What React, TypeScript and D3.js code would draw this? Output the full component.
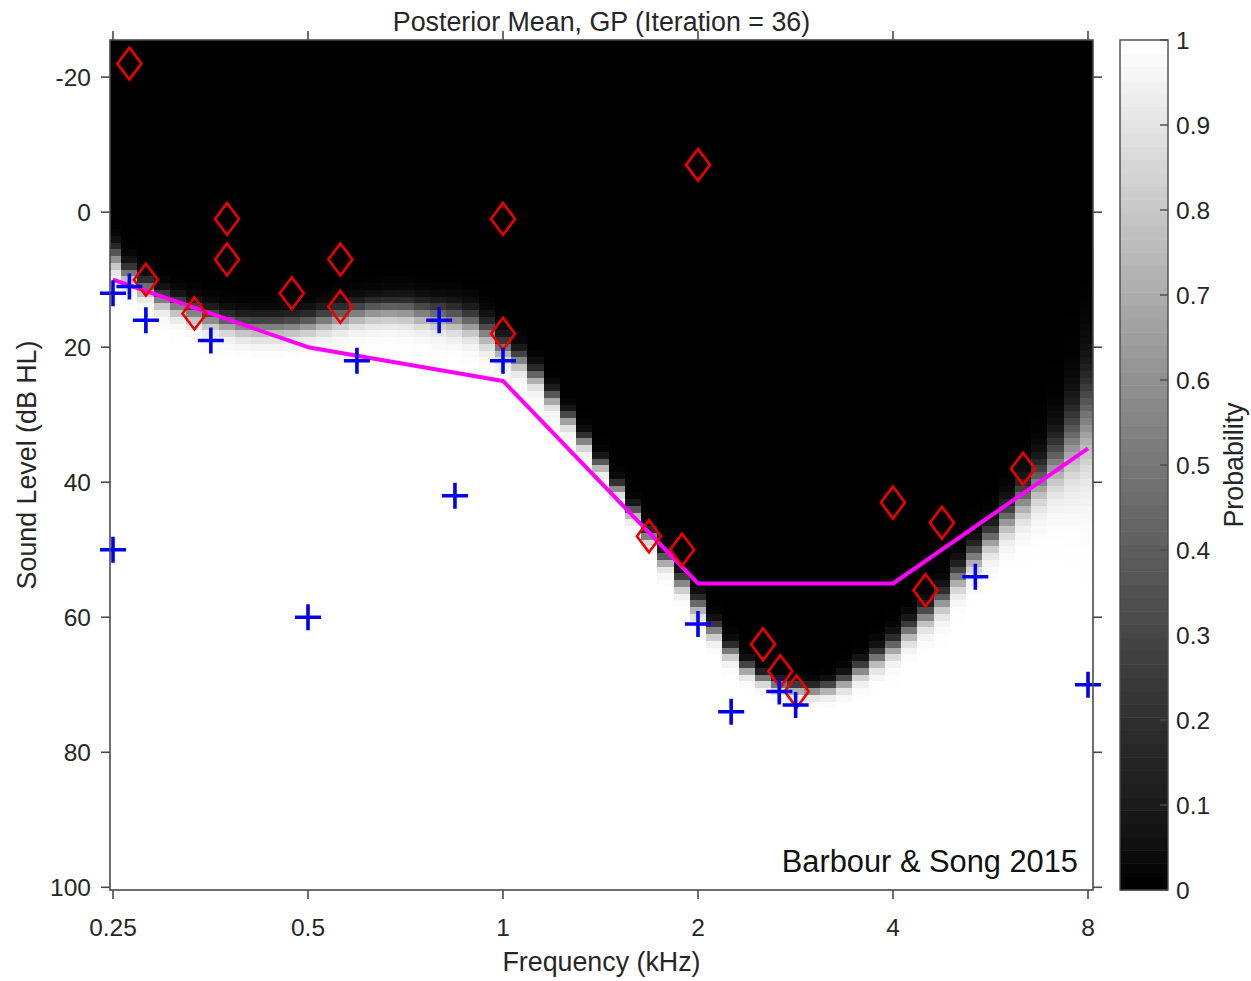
import React, { useMemo } from "react";
import * as d3 from "d3";

const W = 1251;
const H = 981;
const FONT = "'Liberation Sans', Arial, Helvetica, sans-serif";
const TEXT = "#262626";
const AXIS = "#4a4a4a";

// Axes frame (pixels) and the data positions of the outermost ticks
const frame = { left: 110, right: 1093, top: 40, bottom: 890 };
const cbar = { left: 1120, right: 1168, top: 40, bottom: 890 };

const xTicks = [0.25, 0.5, 1, 2, 4, 8];
const yTicks = [-20, 0, 20, 40, 60, 80, 100];
const colorTicks = [0, 0.1, 0.2, 0.3, 0.4, 0.5, 0.6, 0.7, 0.8, 0.9, 1];

// Audiogram threshold (magenta line)
const thresholdFreqs = [0.25, 0.5, 1, 2, 4, 8];
const thresholdLevels = [10, 20, 25, 55, 55, 35];

// Tones not heard (red diamonds)
const missFreqs = [0.265, 0.281, 0.334, 0.375, 0.375, 0.472, 0.561, 0.561, 1.0, 1.0, 2.0, 1.68, 1.89, 4.0, 4.76, 4.49, 6.35, 2.52, 2.68, 2.84];
const missLevels = [-22, 10, 15, 1, 7, 12, 7, 14, 1, 18, -7, 48, 50, 43, 46, 56, 38, 64, 68, 71];

// Tones heard (blue pluses)
const hitFreqs = [0.25, 0.265, 0.281, 0.354, 0.25, 0.5, 0.595, 0.797, 0.843, 1.0, 2.0, 2.25, 2.67, 2.83, 5.36, 8.0];
const hitLevels = [12, 11, 16, 19, 50, 60, 22, 16, 42, 22, 61, 74, 71, 73, 54, 70];

// Posterior-mean 50% contour (dB HL) and its transition width (dB),
// sampled every 1/8 octave from 0.25 kHz up to 8 kHz
const contourStepOct = 1 / 8;
const contourLevels = [
  6.7, 10.3, 13.0, 14.5, 15.8, 16.8, 17.0, 17.0, 16.6, 15.8, 15.0, 14.5, 14.6, 15.2, 15.8, 16.8,
  20.2, 22.8, 27.5, 32.2, 37.4, 42.6, 48.0, 53.2, 58.3, 63.8, 67.6, 69.8, 70.6, 71.0, 69.6, 67.0,
  64.4, 61.0, 57.6, 52.4, 48.4, 44.0, 40.0, 35.6, 30.8,
];
const contourSpread = [
  1.0, 0.75, 0.8, 0.85, 0.9, 0.9, 0.95, 0.95, 0.95, 1.0, 1.0, 1.0, 1.05, 1.1, 1.15, 1.2,
  0.95, 0.85, 0.75, 0.65, 0.62, 0.6, 0.62, 0.75, 0.8, 0.7, 0.6, 0.5, 0.5, 0.5, 0.65, 0.8,
  0.9, 0.95, 1.05, 1.15, 1.15, 1.45, 1.8, 2.5, 4.0,
];

// Evaluation grid of the posterior mean
const gridStepOct = 1 / 12;
const gridOctaves = 5;
const gridLevelMin = -26;
const gridLevelMax = 101;

const x = d3.scaleLog().base(2).domain([0.25, 8]).range([113, 1088]);
const y = d3.scaleLinear().domain([-25.5, 100.4]).range([frame.top, frame.bottom]);
const cy = d3.scaleLinear().domain([0, 1]).range([cbar.bottom, cbar.top]);

function contourAt(oct: number, arr: number[]) {
  const t = oct / contourStepOct;
  const i = Math.min(arr.length - 2, Math.max(0, Math.floor(t)));
  const f = t - i;
  return arr[i] * (1 - f) + arr[i + 1] * f;
}

function usePosteriorImage() {
  return useMemo(() => {
    const cols = Math.round(gridOctaves / gridStepOct) + 1;
    const rows = gridLevelMax - gridLevelMin + 1;
    const canvas = document.createElement("canvas");
    canvas.width = cols;
    canvas.height = rows;
    const ctx = canvas.getContext("2d")!;
    const img = ctx.createImageData(cols, rows);
    for (let c = 0; c < cols; c++) {
      const oct = c * gridStepOct;
      const T = contourAt(oct, contourLevels);
      const s = contourAt(oct, contourSpread);
      for (let r = 0; r < rows; r++) {
        const level = gridLevelMin + r;
        const p = 1 / (1 + Math.exp(-(level - T) / s));
        const g = Math.round(255 * p);
        const k = (r * cols + c) * 4;
        img.data[k] = g;
        img.data[k + 1] = g;
        img.data[k + 2] = g;
        img.data[k + 3] = 255;
      }
    }
    ctx.putImageData(img, 0, 0);
    return { url: canvas.toDataURL(), cols, rows };
  }, []);
}

function plusPath(cx: number, cyy: number, r: number) {
  return `M${cx - r},${cyy}H${cx + r}M${cx},${cyy - r}V${cyy + r}`;
}

export default function App() {
  const heat = usePosteriorImage();
  const halfCol = gridStepOct / 2;
  const imgX0 = x(0.25 * Math.pow(2, -halfCol));
  const imgX1 = x(8 * Math.pow(2, halfCol));
  const imgY0 = y(gridLevelMin - 0.5);
  const imgY1 = y(gridLevelMax + 0.5);

  const line = d3
    .line<number>()
    .x((_, i) => x(thresholdFreqs[i]))
    .y((d) => y(d));

  const bands = d3.range(64);
  const tickLen = 9;

  return (
    <svg
      width={W}
      height={H}
      style={{ position: "absolute", left: 0, top: 0, display: "block", background: "#fff" }}
      fontFamily={FONT}
    >
      <defs>
        <clipPath id="plotClip">
          <rect x={frame.left} y={frame.top} width={frame.right - frame.left} height={frame.bottom - frame.top} />
        </clipPath>
      </defs>

      {/* posterior mean probability */}
      <g clipPath="url(#plotClip)">
        <rect x={frame.left} y={frame.top} width={frame.right - frame.left} height={frame.bottom - frame.top} fill="#fff" />
        <image
          href={heat.url}
          x={imgX0}
          y={imgY0}
          width={imgX1 - imgX0}
          height={imgY1 - imgY0}
          preserveAspectRatio="none"
          style={{ imageRendering: "pixelated" }}
        />
        <path d={line(thresholdLevels) || ""} fill="none" stroke="#ff00ff" strokeWidth={4} strokeLinejoin="round" />
      </g>

      {/* markers */}
      <g>
        {missFreqs.map((f, i) => {
          const cx = x(f);
          const cyy = y(missLevels[i]);
          return (
            <path
              key={`m${i}`}
              d={`M${cx},${cyy - 16}L${cx + 12},${cyy}L${cx},${cyy + 16}L${cx - 12},${cyy}Z`}
              fill="none"
              stroke="#ee0000"
              strokeWidth={2.6}
            />
          );
        })}
        {hitFreqs.map((f, i) => (
          <path
            key={`h${i}`}
            d={plusPath(x(f), y(hitLevels[i]), 13)}
            fill="none"
            stroke="#0000ee"
            strokeWidth={3.6}
          />
        ))}
      </g>

      {/* axes box with outward ticks */}
      <rect
        x={frame.left}
        y={frame.top}
        width={frame.right - frame.left}
        height={frame.bottom - frame.top}
        fill="none"
        stroke={AXIS}
        strokeWidth={1.6}
      />
      {xTicks.map((t) => (
        <g key={`xt${t}`} stroke={AXIS} strokeWidth={1.6}>
          <line x1={x(t)} x2={x(t)} y1={frame.bottom} y2={frame.bottom + tickLen} />
          <line x1={x(t)} x2={x(t)} y1={frame.top} y2={frame.top - tickLen} />
        </g>
      ))}
      {yTicks.map((t) => (
        <g key={`yt${t}`} stroke={AXIS} strokeWidth={1.6}>
          <line x1={frame.left} x2={frame.left - tickLen} y1={y(t)} y2={y(t)} />
          <line x1={frame.right} x2={frame.right + tickLen} y1={y(t)} y2={y(t)} />
        </g>
      ))}
      {xTicks.map((t) => (
        <text key={`xl${t}`} x={x(t)} y={927} textAnchor="middle" dominantBaseline="central" fontSize={24.5} fill={TEXT}>
          {String(t)}
        </text>
      ))}
      {yTicks.map((t) => (
        <text key={`yl${t}`} x={91} y={y(t)} textAnchor="end" dominantBaseline="central" fontSize={24.5} fill={TEXT}>
          {String(t)}
        </text>
      ))}

      <text x={(frame.left + frame.right) / 2} y={22} textAnchor="middle" dominantBaseline="central" fontSize={26.8} fill={TEXT}>
        Posterior Mean, GP (Iteration = 36)
      </text>
      <text x={(frame.left + frame.right) / 2} y={962} textAnchor="middle" dominantBaseline="central" fontSize={26.8} fill={TEXT}>
        Frequency (kHz)
      </text>
      <text
        transform={`translate(27,${(frame.top + frame.bottom) / 2}) rotate(-90)`}
        textAnchor="middle"
        dominantBaseline="central"
        fontSize={26.8}
        fill={TEXT}
      >
        Sound Level (dB HL)
      </text>
      <text x={1078} y={861} textAnchor="end" dominantBaseline="central" fontSize={30.8} fill="#111">
        Barbour &amp; Song 2015
      </text>

      {/* colorbar */}
      {bands.map((k) => (
        <rect
          key={`cb${k}`}
          x={cbar.left}
          y={cy((k + 1) / bands.length)}
          width={cbar.right - cbar.left}
          height={cy(k / bands.length) - cy((k + 1) / bands.length) + 0.5}
          fill={d3.gray((100 * k) / (bands.length - 1)).formatHex()}
        />
      ))}
      <rect
        x={cbar.left}
        y={cbar.top}
        width={cbar.right - cbar.left}
        height={cbar.bottom - cbar.top}
        fill="none"
        stroke={AXIS}
        strokeWidth={1.4}
      />
      {colorTicks.map((t) => (
        <g key={`ct${t}`}>
          <line x1={cbar.right} x2={cbar.right - 8} y1={cy(t)} y2={cy(t)} stroke={AXIS} strokeWidth={1.4} />
          <text x={1176} y={cy(t)} dominantBaseline="central" fontSize={24.5} fill={TEXT}>
            {String(t)}
          </text>
        </g>
      ))}
      <text
        transform={`translate(1234,${(cbar.top + cbar.bottom) / 2}) rotate(-90)`}
        textAnchor="middle"
        dominantBaseline="central"
        fontSize={26.8}
        fill={TEXT}
      >
        Probability
      </text>
    </svg>
  );
}
